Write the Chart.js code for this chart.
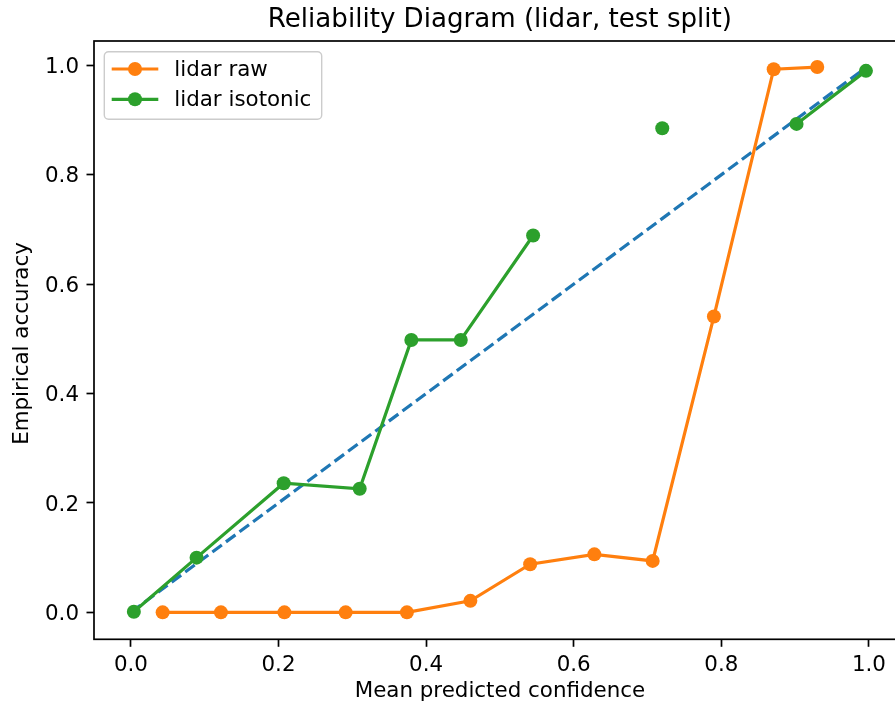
<!DOCTYPE html>
<html>
<head>
<meta charset="utf-8">
<script src="https://cdn.jsdelivr.net/npm/chart.js@4.4.1/dist/chart.umd.min.js"></script>
<style>
  html, body { margin: 0; padding: 0; background: #fff; overflow: hidden; }
  #wrap { width: 920px; height: 704px; }
</style>
</head>
<body>
<div id="wrap"><canvas id="c" width="920" height="704"></canvas></div>
<script>
// ---- data ----
const titleText = 'Reliability Diagram (lidar, test split)';
const xLabel = 'Mean predicted confidence';
const yLabel = 'Empirical accuracy';
const xTicks = [0.0, 0.2, 0.4, 0.6, 0.8, 1.0];
const yTicks = [0.0, 0.2, 0.4, 0.6, 0.8, 1.0];

const rawLabel = 'lidar raw';
const rawX = [0.043, 0.122, 0.208, 0.291, 0.374, 0.460, 0.541, 0.628, 0.707, 0.790, 0.871, 0.930];
const rawY = [0.000, 0.000, 0.000, 0.000, 0.000, 0.021, 0.088, 0.106, 0.094, 0.541, 0.993, 0.997];

const isoLabel = 'lidar isotonic';
const isoX = [0.004, 0.089, 0.207, 0.310, 0.380, 0.447, 0.545, null, 0.720, null, 0.902, 0.996];
const isoY = [0.001, 0.100, 0.236, 0.226, 0.498, 0.498, 0.689, null, 0.885, null, 0.893, 0.990];

const diagX = [0.0, 1.0];
const diagY = [0.0, 1.0];

// ---- styling ----
const FONT = "'DejaVu Sans', sans-serif";
const FS = 21.4;
const TFS = 26.1;
const ORANGE = '#ff7f0e', GREEN = '#2ca02c', BLUE = '#1f77b4';
const LW = 3.2, MR = 7, SPINE = 1.7;

const pts = (xs, ys) => xs.map((x, i) => ({ x: x, y: ys[i] }));

const decor = {
  id: 'decor',
  afterDatasetsDraw(chart) {
    const ctx = chart.ctx, a = chart.chartArea;
    ctx.save();
    // spines
    ctx.strokeStyle = '#000';
    ctx.lineWidth = SPINE;
    ctx.strokeRect(a.left, a.top, a.right - a.left, a.bottom - a.top);
    // y tick labels (matplotlib centres them slightly below the tick)
    const ys = chart.scales.y;
    ctx.fillStyle = '#000';
    ctx.font = FS + 'px ' + FONT;
    ctx.textAlign = 'right';
    ctx.textBaseline = 'middle';
    yTicks.forEach(v => {
      ctx.fillText(v.toFixed(1), a.left - 7.5 - 7.5, ys.getPixelForValue(v) + 2);
    });
    // legend
    const bx = 104.3, by = 51.7, bw = 217.4, bh = 67.6, r = 4.3;
    ctx.beginPath();
    ctx.moveTo(bx + r, by);
    ctx.arcTo(bx + bw, by, bx + bw, by + bh, r);
    ctx.arcTo(bx + bw, by + bh, bx, by + bh, r);
    ctx.arcTo(bx, by + bh, bx, by, r);
    ctx.arcTo(bx, by, bx + bw, by, r);
    ctx.closePath();
    ctx.fillStyle = 'rgba(255,255,255,0.8)';
    ctx.fill();
    ctx.strokeStyle = '#cccccc';
    ctx.lineWidth = 1.4;
    ctx.stroke();
    const rows = chart.data.datasets.filter(d => d.inLegend);
    const rowY = [69, 99.3];
    rows.forEach((d, i) => {
      const y = rowY[i];
      ctx.strokeStyle = d.borderColor;
      ctx.lineWidth = LW;
      ctx.beginPath();
      ctx.moveTo(111.7, y); ctx.lineTo(158.3, y);
      ctx.stroke();
      ctx.fillStyle = d.borderColor;
      ctx.beginPath();
      ctx.arc(135, y, MR, 0, Math.PI * 2);
      ctx.fill();
      ctx.fillStyle = '#000';
      ctx.font = FS + 'px ' + FONT;
      ctx.textAlign = 'left';
      ctx.textBaseline = 'middle';
      ctx.fillText(d.label, 174.3, y + 1);
    });
    // title and axis labels
    const cx = (a.left + a.right) / 2;
    ctx.fillStyle = '#000';
    ctx.textAlign = 'center';
    ctx.textBaseline = 'alphabetic';
    ctx.font = TFS + 'px ' + FONT;
    ctx.fillText(titleText, cx, 27.3);
    ctx.font = FS + 'px ' + FONT;
    ctx.fillText(xLabel, cx, 697.3);
    ctx.save();
    ctx.translate(27.5, 343.5);
    ctx.rotate(-Math.PI / 2);
    ctx.fillText(yLabel, 0, 0);
    ctx.restore();
    ctx.restore();
  }
};

new Chart(document.getElementById('c'), {
  type: 'scatter',
  data: {
    datasets: [
      {
        label: rawLabel, inLegend: true, data: pts(rawX, rawY), showLine: true,
        borderColor: ORANGE, backgroundColor: ORANGE, borderWidth: LW,
        pointRadius: MR, pointBorderWidth: 0, pointHoverRadius: MR, order: 2, spanGaps: false
      },
      {
        label: isoLabel, inLegend: true, data: pts(isoX, isoY), showLine: true,
        borderColor: GREEN, backgroundColor: GREEN, borderWidth: LW,
        pointRadius: MR, pointBorderWidth: 0, pointHoverRadius: MR, order: 1, spanGaps: false
      },
      {
        label: 'diagonal', inLegend: false, data: pts(diagX, diagY), showLine: true,
        borderColor: BLUE, backgroundColor: BLUE, borderWidth: LW, borderDash: [11.8, 5.1],
        pointRadius: 0, order: 3
      }
    ]
  },
  options: {
    responsive: false,
    devicePixelRatio: 1,
    animation: false,
    events: [],
    layout: { padding: { left: 0, top: 41, right: 14.2, bottom: 0 } },
    plugins: { legend: { display: false }, title: { display: false }, tooltip: { enabled: false } },
    scales: {
      x: {
        type: 'linear', min: -0.05, max: 1.05,
        afterBuildTicks: s => { s.ticks = xTicks.map(v => ({ value: v })); },
        afterFit: s => { s.height = 704 - 639.3; },
        ticks: { color: '#000', font: { family: FONT, size: FS }, padding: 6, maxRotation: 0, autoSkip: false,
                 callback: v => Number(v).toFixed(1) },
        grid: { display: true, drawOnChartArea: false, drawTicks: true, tickLength: 7.5, tickWidth: SPINE, tickColor: '#000' },
        border: { display: false }
      },
      y: {
        type: 'linear', min: -0.0493, max: 1.0446,
        afterBuildTicks: s => { s.ticks = yTicks.map(v => ({ value: v })); },
        afterFit: s => { s.width = 94; },
        ticks: { display: false },
        grid: { display: true, drawOnChartArea: false, drawTicks: true, tickLength: 7.5, tickWidth: SPINE, tickColor: '#000' },
        border: { display: false }
      }
    }
  },
  plugins: [decor]
});
</script>
</body>
</html>
